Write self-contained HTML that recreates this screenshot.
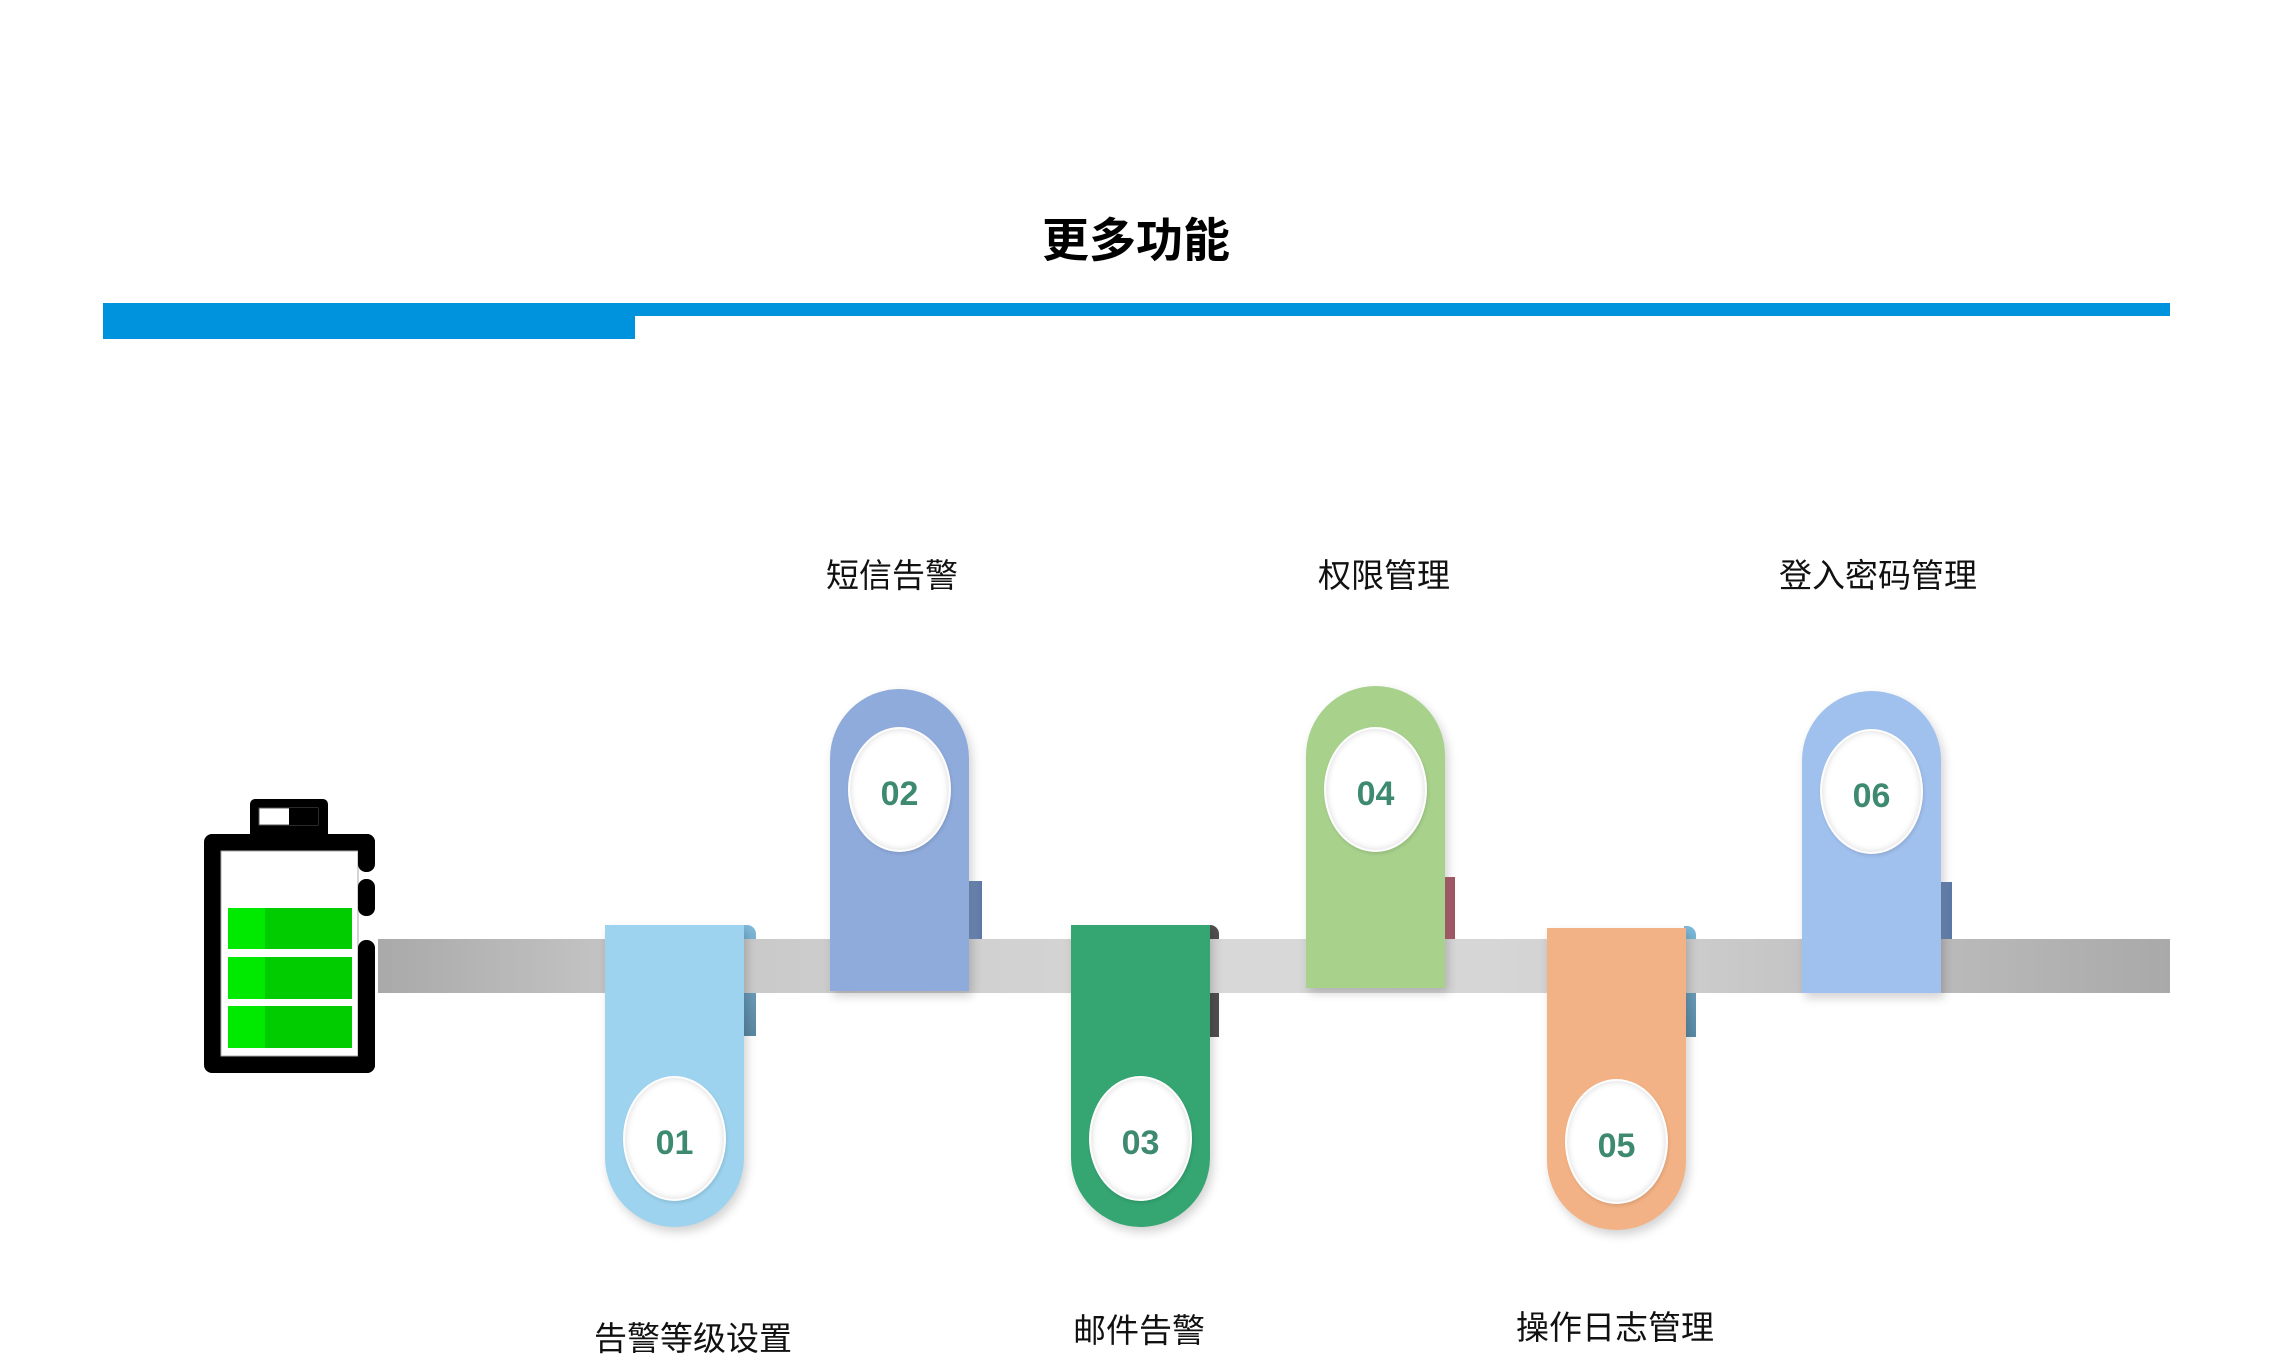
<!DOCTYPE html>
<html>
<head>
<meta charset="utf-8">
<style>
  html,body{margin:0;padding:0;}
  body{width:2274px;height:1362px;background:#fff;position:relative;overflow:hidden;
       font-family:"Liberation Sans","Noto Sans CJK SC",sans-serif;}
  .abs{position:absolute;}
  .title{position:absolute;left:936px;width:400px;top:217px;text-align:center;font-size:47px;line-height:47px;
         font-weight:bold;color:#000;font-family:"Liberation Sans","Noto Sans CJK SC",sans-serif;}
  .lbl{position:absolute;width:400px;text-align:center;font-size:33px;line-height:33px;color:#111;
       font-family:"Liberation Sans","Noto Sans CJK SC",sans-serif;}
  .bar{position:absolute;left:378px;top:939px;width:1792px;height:54px;z-index:2;
       background:linear-gradient(to right,#a9a9a9 0%,#c6c6c6 14%,#cfcfcf 30%,#d8d8d8 48%,#d6d6d6 62%,#cbcbcb 74%,#bcbcbc 86%,#a9a9a9 100%);}
  .card{position:absolute;width:139px;height:302px;z-index:3;box-shadow:3px 5px 10px rgba(0,0,0,0.18);}
  .card.top{border-radius:69.5px 69.5px 0 0 / 69.5px 69.5px 0 0;}
  .card.bot{border-radius:0 0 69.5px 69.5px / 0 0 69.5px 69.5px;}
  .circ{position:absolute;left:18px;width:99px;height:121px;border-radius:50%;background:#fff;
        border:2px solid #fdfdfd;
        box-shadow:inset 0 0 7px rgba(0,0,0,0.16),1px 2px 3px rgba(0,0,0,0.10);
        text-align:center;font-family:"Liberation Sans",sans-serif;font-weight:bold;font-size:34px;
        color:#3d8a70;line-height:131px;}
  .card.top .circ{top:38px;}
  .card.bot .circ{top:151px;}
  .tab{position:absolute;z-index:1;}
</style>
</head>
<body>

<div class="title">更多功能</div>

<!-- header blue bar -->
<div class="abs" style="left:103px;top:303px;width:2067px;height:13px;background:#0093dd;"></div>
<div class="abs" style="left:103px;top:303px;width:532px;height:36px;background:#0093dd;"></div>

<!-- battery -->
<svg class="abs" style="left:0;top:0;" width="420" height="1100" viewBox="0 0 420 1100">
  <rect x="250" y="799" width="78" height="45" rx="5" fill="#000"/>
  <rect x="259" y="808" width="59" height="17" fill="#fff" stroke="#555" stroke-width="1"/>
  <rect x="289" y="808" width="29" height="17" fill="#000"/>
  <rect x="204" y="834" width="171" height="239" rx="8" fill="#000"/>
  <rect x="221" y="851" width="155" height="205" fill="#fff"/>
  <rect x="221" y="851" width="137" height="205" fill="none" stroke="#aaa" stroke-width="1"/>
  <rect x="358" y="834" width="17" height="38" rx="8" fill="#000"/>
  <rect x="358" y="879" width="17" height="37" rx="8" fill="#000"/>
  <rect x="358" y="940" width="17" height="133" rx="8" fill="#000"/>
  <g>
    <rect x="228" y="908" width="124" height="41" fill="#00cc00"/>
    <rect x="228" y="908" width="37" height="41" fill="#00ea00"/>
    <rect x="228" y="957" width="124" height="42" fill="#00cc00"/>
    <rect x="228" y="957" width="37" height="42" fill="#00ea00"/>
    <rect x="228" y="1006" width="124" height="42" fill="#00cc00"/>
    <rect x="228" y="1006" width="37" height="42" fill="#00ea00"/>
  </g>
</svg>

<!-- gray track -->
<div class="bar"></div>

<!-- tabs -->
<div class="tab" style="left:740px;top:925px;width:16px;height:111px;border-radius:0 9px 0 0;background:linear-gradient(to bottom,#80badc 0%,#6c9dbb 55%,#5a87a2 100%);"></div>
<div class="tab" style="left:966px;top:881px;width:16px;height:80px;background:linear-gradient(to right,#7c97c3,#5e78a5);"></div>
<div class="tab" style="left:1206px;top:925px;width:13px;height:112px;border-radius:0 9px 0 0;background:#505050;"></div>
<div class="tab" style="left:1441px;top:877px;width:14px;height:80px;background:linear-gradient(to right,#bb6f7c,#9d5563);"></div>
<div class="tab" style="left:1684px;top:926px;width:12px;height:111px;border-radius:0 9px 0 0;background:linear-gradient(to bottom,#7dbadb 0%,#6a9dbb 55%,#5a8aa6 100%);"></div>
<div class="tab" style="left:1939px;top:882px;width:13px;height:80px;background:linear-gradient(to right,#7592be,#5b77a3);"></div>

<!-- cards -->
<div class="card bot" style="left:605px;top:925px;background:#9dd3ee;"><div class="circ">01</div></div>
<div class="card top" style="left:830px;top:689px;background:#8fabdc;"><div class="circ">02</div></div>
<div class="card bot" style="left:1071px;top:925px;background:#35a572;"><div class="circ">03</div></div>
<div class="card top" style="left:1306px;top:686px;background:#a8d18c;"><div class="circ" style="top:41px;">04</div></div>
<div class="card bot" style="left:1547px;top:928px;background:#f3b285;"><div class="circ">05</div></div>
<div class="card top" style="left:1802px;top:691px;background:#a0c0ed;"><div class="circ">06</div></div>

<!-- labels -->
<div class="lbl" style="left:692px;top:559px;">短信告警</div>
<div class="lbl" style="left:1184px;top:559px;">权限管理</div>
<div class="lbl" style="left:1678px;top:559px;">登入密码管理</div>
<div class="lbl" style="left:493px;top:1322px;">告警等级设置</div>
<div class="lbl" style="left:939px;top:1314px;">邮件告警</div>
<div class="lbl" style="left:1415px;top:1311px;">操作日志管理</div>

</body>
</html>
